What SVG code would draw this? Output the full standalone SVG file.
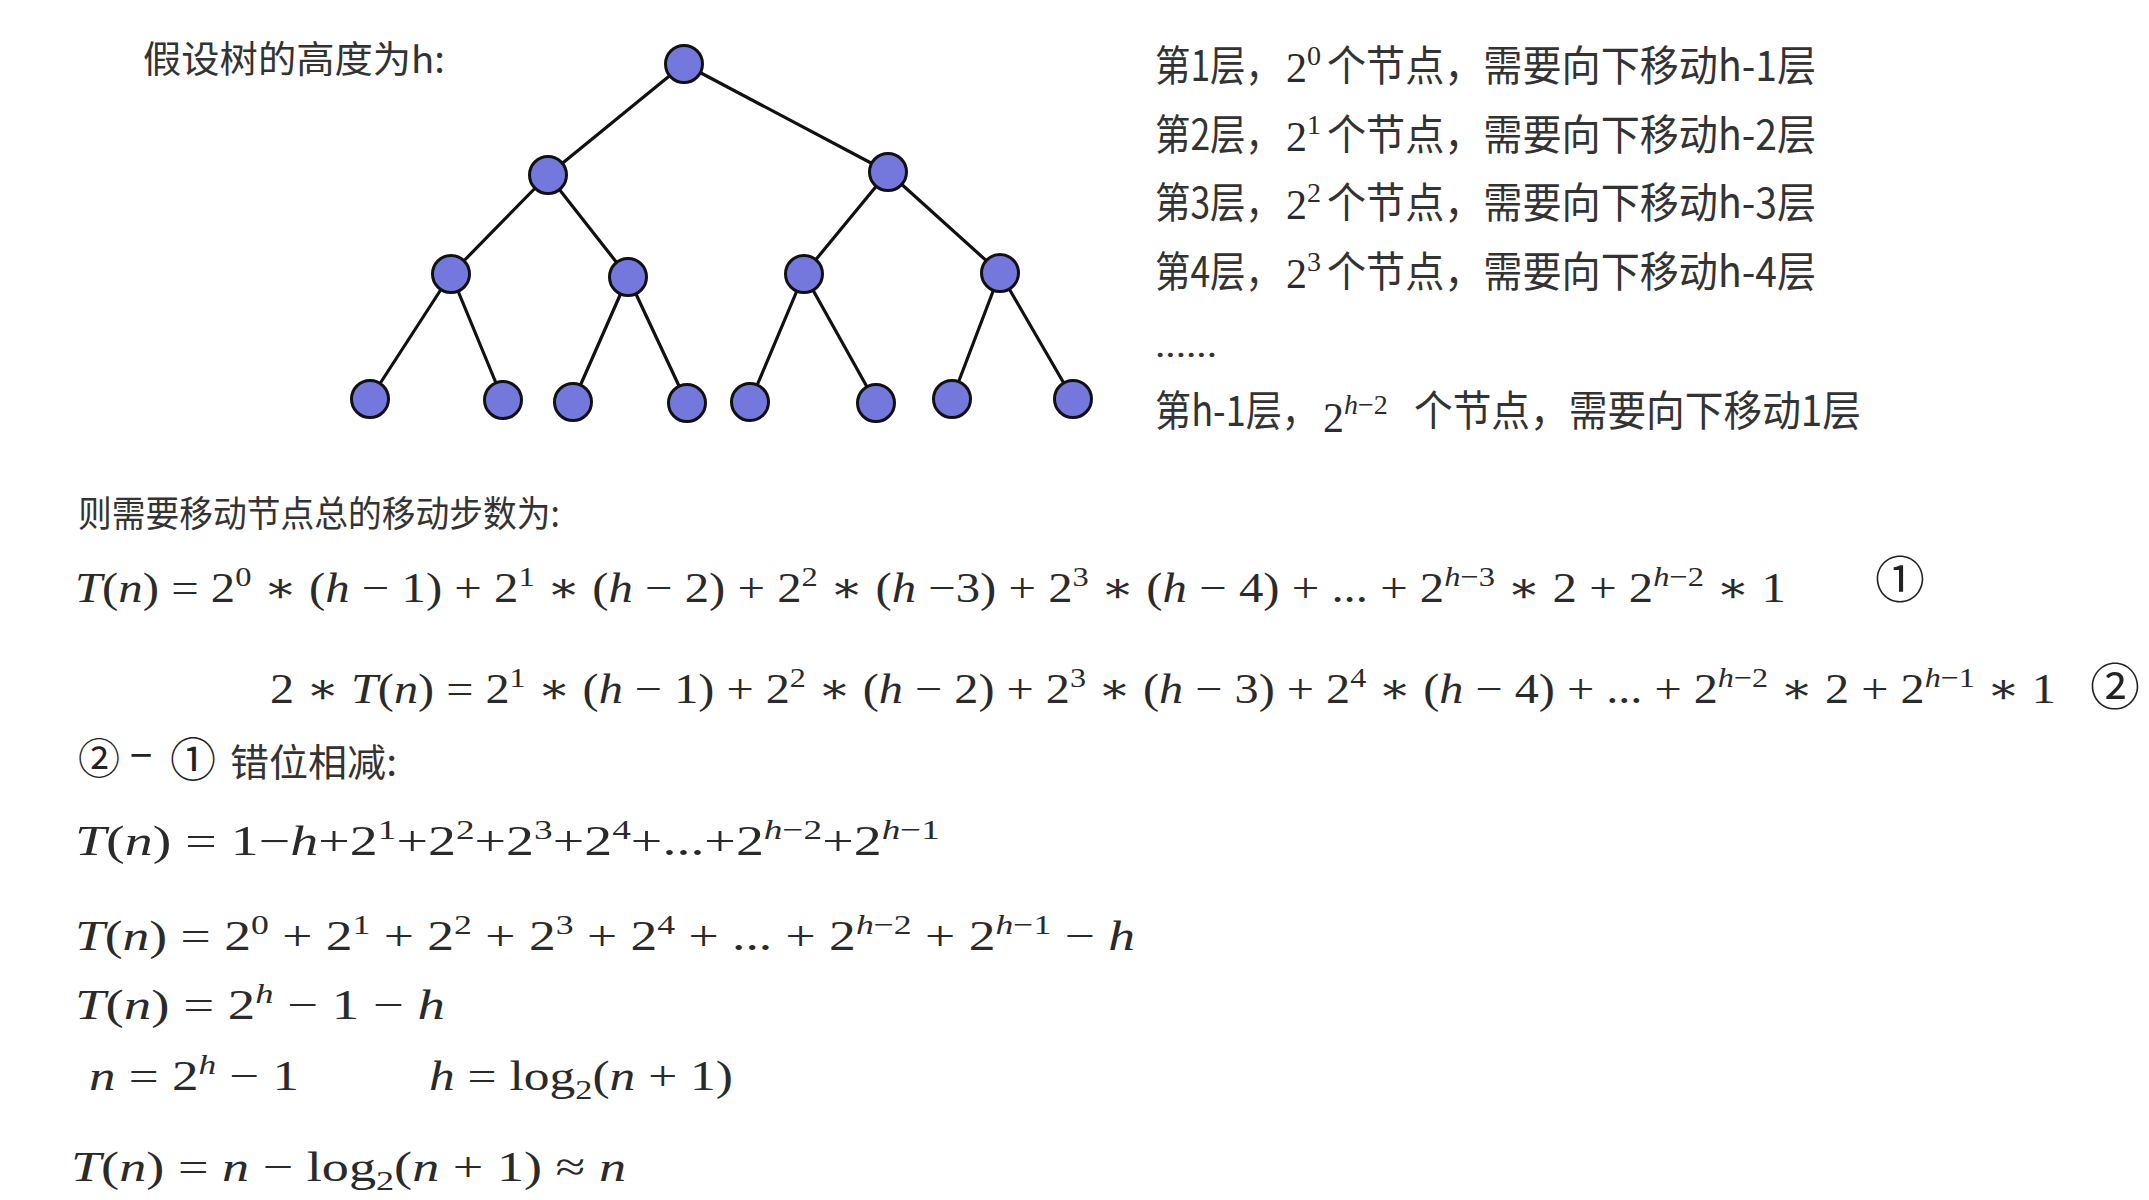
<svg xmlns="http://www.w3.org/2000/svg" width="2149" height="1200" viewBox="0 0 2149 1200">
<style>
.cn{font-family:"Noto Sans CJK SC","Noto Sans",sans-serif;fill:#333;}
.m{font-family:"Liberation Serif","DejaVu Serif",serif;font-size:42px;fill:#2a2a2a;}
.i{font-style:italic;}
.s{font-size:28px;}
.cir{font-family:"Noto Sans CJK SC","DejaVu Sans",sans-serif;fill:#222;}
.node circle{fill:#7478dc;stroke:#111;stroke-width:3;}
.edges line{stroke:#111;stroke-width:3.2;stroke-linecap:round;}
</style>
<rect width="2149" height="1200" fill="#fff"/>

<g id="connectors" class="edges">
<line x1="684" y1="64" x2="548" y2="175"/>
<line x1="684" y1="64" x2="888" y2="172"/>
<line x1="548" y1="175" x2="451" y2="274"/>
<line x1="548" y1="175" x2="628" y2="277"/>
<line x1="888" y1="172" x2="804" y2="274"/>
<line x1="888" y1="172" x2="1000" y2="273"/>
<line x1="451" y1="274" x2="370" y2="399"/>
<line x1="451" y1="274" x2="503" y2="400"/>
<line x1="628" y1="277" x2="573" y2="402"/>
<line x1="628" y1="277" x2="687" y2="403"/>
<line x1="804" y1="274" x2="750" y2="402"/>
<line x1="804" y1="274" x2="876" y2="403"/>
<line x1="1000" y1="273" x2="952" y2="399"/>
<line x1="1000" y1="273" x2="1073" y2="399"/>
</g>

<g class="node" id="n1"><circle cx="684" cy="64" r="18.5"/></g>
<g class="node" id="n2"><circle cx="548" cy="175" r="18.5"/></g>
<g class="node" id="n3"><circle cx="888" cy="172" r="18.5"/></g>
<g class="node" id="n4"><circle cx="451" cy="274" r="18.5"/></g>
<g class="node" id="n5"><circle cx="628" cy="277" r="18.5"/></g>
<g class="node" id="n6"><circle cx="804" cy="274" r="18.5"/></g>
<g class="node" id="n7"><circle cx="1000" cy="273" r="18.5"/></g>
<g class="node" id="n8"><circle cx="370" cy="399" r="18.5"/></g>
<g class="node" id="n9"><circle cx="503" cy="400" r="18.5"/></g>
<g class="node" id="n10"><circle cx="573" cy="402" r="18.5"/></g>
<g class="node" id="n11"><circle cx="687" cy="403" r="18.5"/></g>
<g class="node" id="n12"><circle cx="750" cy="402" r="18.5"/></g>
<g class="node" id="n13"><circle cx="876" cy="403" r="18.5"/></g>
<g class="node" id="n14"><circle cx="952" cy="399" r="18.5"/></g>
<g class="node" id="n15"><circle cx="1073" cy="399" r="18.5"/></g>

<g id="title">
<text class="cn" x="143" y="73" font-size="37" textLength="302" lengthAdjust="spacingAndGlyphs">假设树的高度为h:</text>
</g>

<g id="levels">
<text class="cn" x="1155" y="81" font-size="42" textLength="126" lengthAdjust="spacingAndGlyphs">第1层，</text>
<text class="m" x="1286" y="82" font-size="44">2<tspan class="s" dy="-17">0</tspan></text>
<text class="cn" x="1327" y="81" font-size="42" textLength="489" lengthAdjust="spacingAndGlyphs">个节点，需要向下移动h-1层</text>

<text class="cn" x="1155" y="149.5" font-size="42" textLength="126" lengthAdjust="spacingAndGlyphs">第2层，</text>
<text class="m" x="1286" y="150.5" font-size="44">2<tspan class="s" dy="-17">1</tspan></text>
<text class="cn" x="1327" y="149.5" font-size="42" textLength="489" lengthAdjust="spacingAndGlyphs">个节点，需要向下移动h-2层</text>

<text class="cn" x="1155" y="218" font-size="42" textLength="126" lengthAdjust="spacingAndGlyphs">第3层，</text>
<text class="m" x="1286" y="219" font-size="44">2<tspan class="s" dy="-17">2</tspan></text>
<text class="cn" x="1327" y="218" font-size="42" textLength="489" lengthAdjust="spacingAndGlyphs">个节点，需要向下移动h-3层</text>

<text class="cn" x="1155" y="286.5" font-size="42" textLength="126" lengthAdjust="spacingAndGlyphs">第4层，</text>
<text class="m" x="1286" y="287.5" font-size="44">2<tspan class="s" dy="-17">3</tspan></text>
<text class="cn" x="1327" y="286.5" font-size="42" textLength="489" lengthAdjust="spacingAndGlyphs">个节点，需要向下移动h-4层</text>

<text class="cn" x="1155" y="357" font-size="30" textLength="62" lengthAdjust="spacingAndGlyphs">......</text>

<text class="cn" x="1155" y="426" font-size="42" textLength="163" lengthAdjust="spacingAndGlyphs">第h-1层，</text>
<text class="m" x="1323" y="432" font-size="44">2<tspan class="s" dy="-18"><tspan class="i">h</tspan>−2</tspan></text>
<text class="cn" x="1414" y="426" font-size="42" textLength="447" lengthAdjust="spacingAndGlyphs">个节点，需要向下移动1层</text>
</g>

<g id="derivation">
<text class="cn" x="78" y="527" font-size="36" textLength="482" lengthAdjust="spacingAndGlyphs">则需要移动节点总的移动步数为:</text>

<text class="m" x="75" y="602" textLength="1711" lengthAdjust="spacingAndGlyphs"><tspan class="i">T</tspan>(<tspan class="i">n</tspan>) = 2<tspan class="s" dy="-16">0</tspan><tspan dy="16"> ∗ (</tspan><tspan class="i">h</tspan> − 1) + 2<tspan class="s" dy="-16">1</tspan><tspan dy="16"> ∗ (</tspan><tspan class="i">h</tspan> − 2) + 2<tspan class="s" dy="-16">2</tspan><tspan dy="16"> ∗ (</tspan><tspan class="i">h</tspan> −3) + 2<tspan class="s" dy="-16">3</tspan><tspan dy="16"> ∗ (</tspan><tspan class="i">h</tspan> − 4) + ... + 2<tspan class="s" dy="-16"><tspan class="i">h</tspan>−3</tspan><tspan dy="16"> ∗ 2 + 2</tspan><tspan class="s" dy="-16"><tspan class="i">h</tspan>−2</tspan><tspan dy="16"> ∗ 1</tspan></text>
<text class="cir" x="1900" y="598" font-size="50" text-anchor="middle">①</text>

<text class="m" x="270" y="703" textLength="1786" lengthAdjust="spacingAndGlyphs">2 ∗ <tspan class="i">T</tspan>(<tspan class="i">n</tspan>) = 2<tspan class="s" dy="-16">1</tspan><tspan dy="16"> ∗ (</tspan><tspan class="i">h</tspan> − 1) + 2<tspan class="s" dy="-16">2</tspan><tspan dy="16"> ∗ (</tspan><tspan class="i">h</tspan> − 2) + 2<tspan class="s" dy="-16">3</tspan><tspan dy="16"> ∗ (</tspan><tspan class="i">h</tspan> − 3) + 2<tspan class="s" dy="-16">4</tspan><tspan dy="16"> ∗ (</tspan><tspan class="i">h</tspan> − 4) + ... + 2<tspan class="s" dy="-16"><tspan class="i">h</tspan>−2</tspan><tspan dy="16"> ∗ 2 + 2</tspan><tspan class="s" dy="-16"><tspan class="i">h</tspan>−1</tspan><tspan dy="16"> ∗ 1</tspan></text>
<text class="cir" x="2115" y="705" font-size="50" text-anchor="middle">②</text>

<text class="cir" x="78" y="774" font-size="42">②</text>
<text class="cir" x="130" y="770" font-size="40">−</text>
<text class="cir" x="170" y="776" font-size="46">①</text>
<text class="cn" x="230" y="776" font-size="38" textLength="167" lengthAdjust="spacingAndGlyphs">错位相减:</text>

<text class="m" x="75" y="855" textLength="865" lengthAdjust="spacingAndGlyphs"><tspan class="i">T</tspan>(<tspan class="i">n</tspan>) = 1−<tspan class="i">h</tspan>+2<tspan class="s" dy="-16">1</tspan><tspan dy="16">+2</tspan><tspan class="s" dy="-16">2</tspan><tspan dy="16">+2</tspan><tspan class="s" dy="-16">3</tspan><tspan dy="16">+2</tspan><tspan class="s" dy="-16">4</tspan><tspan dy="16">+...+2</tspan><tspan class="s" dy="-16"><tspan class="i">h</tspan>−2</tspan><tspan dy="16">+2</tspan><tspan class="s" dy="-16"><tspan class="i">h</tspan>−1</tspan></text>

<text class="m" x="75" y="950" textLength="1060" lengthAdjust="spacingAndGlyphs"><tspan class="i">T</tspan>(<tspan class="i">n</tspan>) = 2<tspan class="s" dy="-16">0</tspan><tspan dy="16"> + 2</tspan><tspan class="s" dy="-16">1</tspan><tspan dy="16"> + 2</tspan><tspan class="s" dy="-16">2</tspan><tspan dy="16"> + 2</tspan><tspan class="s" dy="-16">3</tspan><tspan dy="16"> + 2</tspan><tspan class="s" dy="-16">4</tspan><tspan dy="16"> + ... + 2</tspan><tspan class="s" dy="-16"><tspan class="i">h</tspan>−2</tspan><tspan dy="16"> + 2</tspan><tspan class="s" dy="-16"><tspan class="i">h</tspan>−1</tspan><tspan dy="16"> − </tspan><tspan class="i">h</tspan></text>

<text class="m" x="75" y="1019" textLength="370" lengthAdjust="spacingAndGlyphs"><tspan class="i">T</tspan>(<tspan class="i">n</tspan>) = 2<tspan class="s i" dy="-16">h</tspan><tspan dy="16"> − 1 − </tspan><tspan class="i">h</tspan></text>

<text class="m" x="89" y="1090" textLength="210" lengthAdjust="spacingAndGlyphs"><tspan class="i">n</tspan> = 2<tspan class="s i" dy="-16">h</tspan><tspan dy="16"> − 1</tspan></text>
<text class="m" x="429" y="1090" textLength="304" lengthAdjust="spacingAndGlyphs"><tspan class="i">h</tspan> = log<tspan class="s" dy="9">2</tspan><tspan dy="-9">(</tspan><tspan class="i">n</tspan> + 1)</text>

<text class="m" x="71" y="1181" textLength="555" lengthAdjust="spacingAndGlyphs"><tspan class="i">T</tspan>(<tspan class="i">n</tspan>) = <tspan class="i">n</tspan> − log<tspan class="s" dy="9">2</tspan><tspan dy="-9">(</tspan><tspan class="i">n</tspan> + 1) ≈ <tspan class="i">n</tspan></text>
</g>
</svg>
